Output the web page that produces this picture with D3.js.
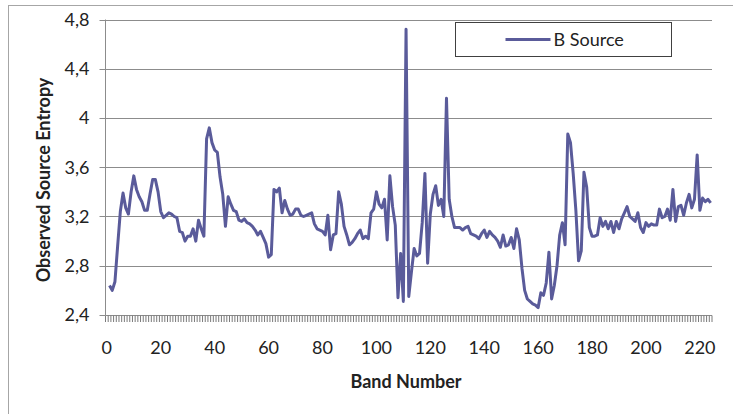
<!DOCTYPE html>
<html>
<head>
<meta charset="utf-8">
<script src="https://cdn.jsdelivr.net/npm/d3@7"></script>
<style>
    body { margin: 0; background: #fff; }
    svg { display: block; font-family: Lato, "Open Sans", sans-serif; }
</style>
</head>
<body>
<div id="chart"></div>
<script>
// band numbers 1..224
const bands = d3.range(1, 225);

const entropy = [
    2.64, 2.60, 2.67, 2.96, 3.24, 3.39, 3.27, 3.22, 3.40, 3.53,
    3.42, 3.36, 3.32, 3.25, 3.25, 3.38, 3.50, 3.50, 3.40, 3.24,
    3.19, 3.21, 3.23, 3.22, 3.20, 3.19, 3.08, 3.07, 3.00, 3.04,
    3.04, 3.10, 3.00, 3.17, 3.10, 3.04, 3.83, 3.92, 3.80, 3.74,
    3.72, 3.52, 3.38, 3.12, 3.36, 3.30, 3.25, 3.24, 3.17, 3.16,
    3.18, 3.15, 3.14, 3.12, 3.09, 3.05, 3.08, 3.03, 2.98, 2.87,
    2.89, 3.42, 3.40, 3.43, 3.23, 3.33, 3.26, 3.21, 3.22, 3.26,
    3.26, 3.21, 3.20, 3.21, 3.22,
    3.23, 3.14, 3.10, 3.09, 3.08, 3.05,
    3.21, 2.93, 3.05, 3.06, 3.40, 3.30, 3.12, 3.05, 2.97, 2.99,
    3.02, 3.06, 3.09, 3.02, 3.04, 3.02, 3.23, 3.26, 3.40, 3.30,
    3.27, 3.34, 3.01, 3.53, 3.28, 3.13, 2.54, 2.90, 2.51, 4.72,
    2.55, 2.75, 2.94, 2.88, 2.90, 3.15, 3.55, 2.82, 3.22, 3.38,
    3.45, 3.29, 3.34, 3.20, 4.16, 3.34, 3.20, 3.11, 3.11, 3.11,
    3.09, 3.11, 3.12, 3.06, 3.05, 3.04, 3.02, 3.06,
    3.09, 3.03, 3.08, 3.05, 3.03, 3.00, 2.95, 3.05, 2.96, 2.97,
    3.03, 2.94, 3.10, 3.01, 2.78, 2.60, 2.53, 2.51, 2.49, 2.48,
    2.46, 2.58, 2.56, 2.66, 2.91, 2.53, 2.64, 2.80, 3.05, 3.15,
    2.97, 3.87, 3.80, 3.55, 3.25, 2.84, 2.92, 3.56, 3.44, 3.11,
    3.04, 3.04, 3.05, 3.19, 3.12, 3.16, 3.10, 3.16, 3.07, 3.16,
    3.10, 3.18, 3.23, 3.28, 3.20, 3.18, 3.16, 3.23, 3.11, 3.07,
    3.15, 3.12, 3.14, 3.13, 3.13, 3.26, 3.19, 3.20, 3.26, 3.17,
    3.42, 3.16, 3.28, 3.29, 3.21, 3.31, 3.38, 3.27, 3.34, 3.70,
    3.25, 3.35, 3.32, 3.34, 3.31
];

const xTickLabels = [0, 20, 40, 60, 80, 100, 120, 140, 160, 180, 200, 220];
const yTickValues = [2.4, 2.8, 3.2, 3.6, 4.0, 4.4, 4.8];
const seriesName = "B Source";

const W = 733, H = 414;
const plot = { left: 105.5, right: 712, top: 19.5, bottom: 315 };
const lineColor = "#5a5b9a";
const gridColor = "#8c8c8c";
const fmt = v => d3.format(".1~f")(v).replace(".", ",");

const svg = d3.select("#chart").append("svg")
    .attr("width", W)
    .attr("height", H);

// chart area frame
svg.append("rect")
    .attr("x", 8.5).attr("y", 5.5)
    .attr("width", 900).attr("height", 600)
    .attr("fill", "#fff")
    .attr("stroke", "#a6a6a6");

const x = d3.scaleLinear().domain([-0.5, 224.5]).range([plot.left, plot.right]);
const y = d3.scaleLinear().domain([2.4, 4.8]).range([plot.bottom, plot.top]);

// gridlines
svg.append("g")
    .selectAll("line")
    .data(yTickValues.slice(1))
    .enter().append("line")
    .attr("x1", plot.left).attr("x2", plot.right)
    .attr("y1", d => Math.round(y(d)) + 0.5)
    .attr("y2", d => Math.round(y(d)) + 0.5)
    .attr("stroke", gridColor)
    .attr("stroke-width", 1);

// y axis
const yAxis = svg.append("g")
    .attr("transform", `translate(${plot.left},0)`);
yAxis.append("line")
    .attr("x1", 0).attr("x2", 0)
    .attr("y1", plot.top).attr("y2", plot.bottom)
    .attr("stroke", gridColor);
yAxis.selectAll(".tick")
    .data(yTickValues)
    .enter().append("line")
    .attr("x1", -6).attr("x2", 0)
    .attr("y1", d => Math.round(y(d)) + 0.5)
    .attr("y2", d => Math.round(y(d)) + 0.5)
    .attr("stroke", gridColor);
yAxis.selectAll("text")
    .data(yTickValues)
    .enter().append("text")
    .attr("x", -16)
    .attr("y", d => y(d))
    .attr("dy", "0.36em")
    .attr("text-anchor", "end")
    .attr("font-size", 18)
    .attr("fill", "#222")
    .text(d => fmt(d));

// x axis
const xAxis = svg.append("g")
    .attr("transform", `translate(0,${Math.round(plot.bottom) + 0.5})`);
xAxis.append("line")
    .attr("x1", plot.left).attr("x2", plot.right)
    .attr("stroke", gridColor);
xAxis.selectAll(".minor")
    .data(d3.range(0, 226))
    .enter().append("line")
    .attr("x1", d => x(d - 0.5)).attr("x2", d => x(d - 0.5))
    .attr("y1", 0).attr("y2", 6.5)
    .attr("stroke", "#7a7a7a")
    .attr("stroke-width", 1);
xAxis.selectAll("text")
    .data(xTickLabels)
    .enter().append("text")
    .attr("x", d => x(d))
    .attr("y", 38)
    .attr("text-anchor", "middle")
    .attr("font-size", 18)
    .attr("fill", "#222")
    .text(d => d);

// series
const line = d3.line()
    .x((d, i) => x(bands[i]))
    .y(d => y(d));

svg.append("path")
    .datum(entropy)
    .attr("fill", "none")
    .attr("stroke", lineColor)
    .attr("stroke-width", 3)
    .attr("stroke-linejoin", "round")
    .attr("d", line);

// axis titles
svg.append("text")
    .attr("x", 406)
    .attr("y", 388)
    .attr("text-anchor", "middle")
    .attr("font-size", 18)
    .attr("font-weight", "bold")
    .attr("fill", "#222")
    .text("Band Number");

svg.append("text")
    .attr("transform", "translate(50,180) rotate(-90)")
    .attr("text-anchor", "middle")
    .attr("font-size", 18)
    .attr("font-weight", "bold")
    .attr("fill", "#222")
    .text("Observed Source Entropy");

// legend
const legend = svg.append("g").attr("transform", "translate(455.5,22.5)");
legend.append("rect")
    .attr("width", 216).attr("height", 34)
    .attr("fill", "#fff")
    .attr("stroke", "#404040");
legend.append("line")
    .attr("x1", 50).attr("x2", 95)
    .attr("y1", 17).attr("y2", 17)
    .attr("stroke", lineColor)
    .attr("stroke-width", 3);
legend.append("text")
    .attr("x", 98)
    .attr("y", 17)
    .attr("dy", "0.36em")
    .attr("font-size", 18)
    .attr("fill", "#222")
    .text(seriesName);
</script>
</body>
</html>
